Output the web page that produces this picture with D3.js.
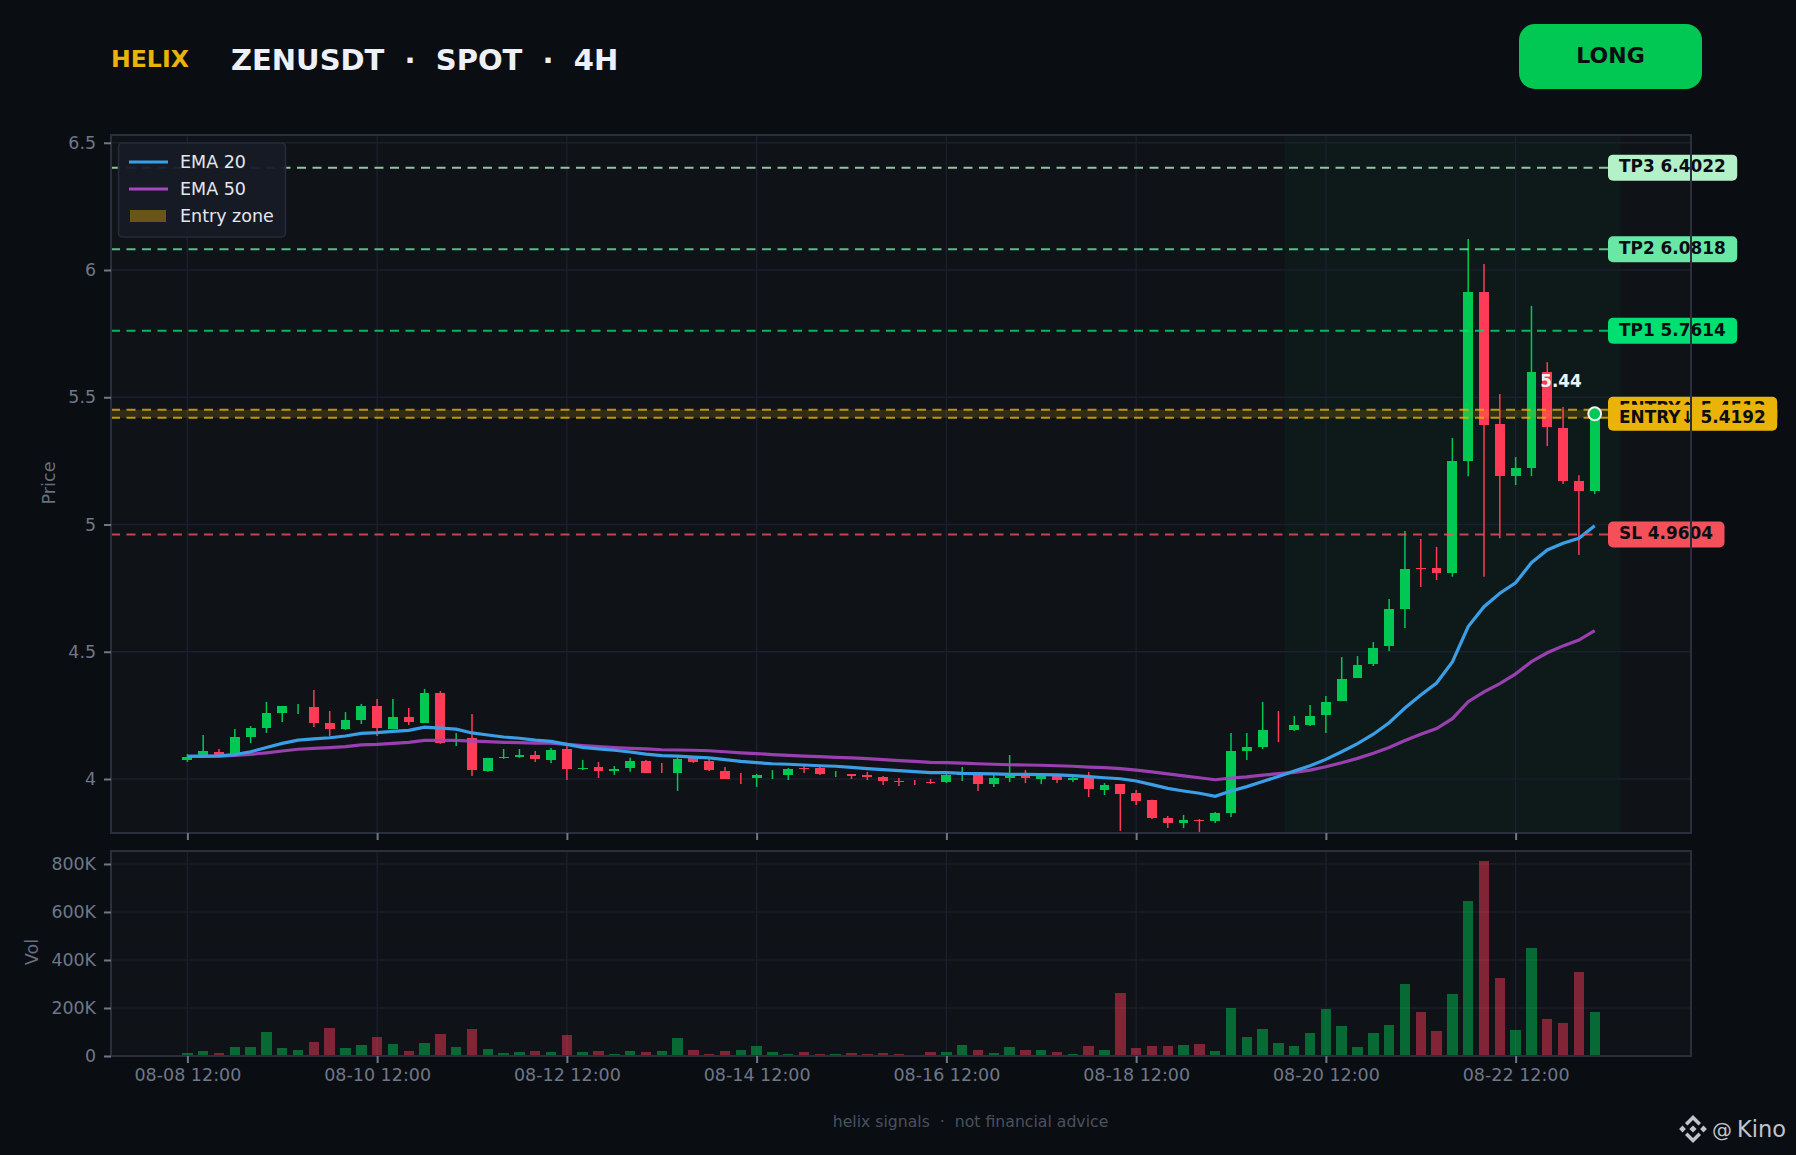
<!DOCTYPE html>
<html><head><meta charset="utf-8">
<script src="https://cdn.jsdelivr.net/npm/d3@7/dist/d3.min.js"></script>
<style>html,body{margin:0;padding:0;background:#0a0d12}svg{display:block}text{font-family:"DejaVu Sans",sans-serif;white-space:pre}</style>
</head><body><div id="c"></div>
<script>
const opens=[4.075,4.088,4.106,4.100,4.165,4.200,4.259,4.275,4.283,4.220,4.196,4.232,4.287,4.196,4.244,4.220,4.338,4.150,4.161,4.031,
4.083,4.086,4.094,4.075,4.118,4.039,4.047,4.031,4.043,4.071,4.050,4.024,4.083,4.071,4.031,4.015,4.004,4.020,4.016,4.043,
4.043,4.020,4.020,4.016,4.008,3.992,3.985,3.988,3.988,4.016,4.016,3.980,4.004,4.012,4.000,4.012,3.996,4.004,3.957,3.980,
3.945,3.918,3.847,3.827,3.840,3.835,3.866,4.110,4.126,4.200,4.193,4.212,4.251,4.306,4.397,4.452,4.523,4.668,4.828,4.829,
4.809,5.250,5.914,5.395,5.190,5.222,5.599,5.379,5.171,5.132];
const closes=[4.086,4.110,4.090,4.165,4.200,4.259,4.287,4.275,4.220,4.196,4.232,4.287,4.200,4.244,4.224,4.338,4.141,4.150,4.035,4.083,
4.086,4.094,4.079,4.114,4.039,4.043,4.031,4.039,4.071,4.024,4.050,4.079,4.067,4.035,4.000,4.015,4.016,4.020,4.039,4.040,
4.020,4.020,4.012,4.008,3.992,3.990,3.985,3.984,4.016,4.020,3.980,4.004,4.012,4.004,4.012,3.996,4.004,3.961,3.976,3.941,
3.914,3.847,3.827,3.839,3.836,3.866,4.110,4.126,4.193,4.200,4.212,4.248,4.303,4.393,4.448,4.515,4.668,4.825,4.826,4.809,
5.250,5.914,5.391,5.190,5.222,5.599,5.383,5.171,5.132,5.436];
const highs=[4.098,4.173,4.118,4.196,4.208,4.303,4.287,4.295,4.350,4.267,4.263,4.295,4.314,4.314,4.279,4.354,4.346,4.181,4.255,4.083,
4.118,4.118,4.110,4.122,4.130,4.075,4.067,4.051,4.083,4.075,4.063,4.086,4.086,4.079,4.047,4.024,4.020,4.035,4.043,4.051,
4.051,4.031,4.020,4.028,4.012,4.004,3.996,4.000,4.020,4.047,4.020,4.016,4.094,4.035,4.016,4.016,4.012,4.028,3.984,3.980,
3.957,3.918,3.855,3.859,3.843,3.870,4.181,4.181,4.303,4.267,4.248,4.291,4.326,4.479,4.483,4.538,4.707,4.974,4.943,4.912,
5.340,6.122,6.024,5.513,5.265,5.859,5.638,5.462,5.194,5.440];
const lows=[4.067,4.088,4.090,4.098,4.141,4.181,4.224,4.255,4.204,4.169,4.193,4.216,4.169,4.196,4.212,4.220,4.138,4.130,4.012,4.028,
4.079,4.083,4.067,4.063,3.996,4.035,4.004,4.016,4.028,4.024,4.024,3.953,4.063,4.031,4.000,3.980,3.969,4.000,3.996,4.024,
4.016,4.008,4.000,3.996,3.976,3.972,3.976,3.980,3.984,3.992,3.953,3.969,3.988,3.984,3.980,3.984,3.988,3.929,3.937,3.796,
3.898,3.843,3.807,3.807,3.792,3.827,3.851,4.075,4.118,4.145,4.189,4.208,4.181,4.306,4.397,4.444,4.503,4.593,4.754,4.782,
4.795,5.190,4.795,4.946,5.155,5.190,5.308,5.159,4.880,5.120];
const volumes=[12,21,12,37,37,100,33,25,58,117,33,46,79,50,21,54,92,37,112,29,
12,17,21,17,87,17,21,8,21,17,21,75,25,8,21,25,42,17,8,17,
8,8,12,8,12,8,4,17,17,46,25,12,37,25,25,17,8,42,25,262,
33,42,42,46,50,21,200,79,112,54,42,96,196,125,37,96,129,300,183,104,
258,646,812,325,108,450,154,137,350,183];
const ema20=[4.089,4.090,4.091,4.096,4.107,4.124,4.140,4.153,4.158,4.162,4.169,4.179,4.182,4.187,4.191,4.204,4.200,4.196,4.181,4.173,
4.165,4.160,4.153,4.148,4.136,4.124,4.118,4.113,4.106,4.098,4.092,4.090,4.086,4.083,4.076,4.069,4.064,4.060,4.058,4.055,
4.052,4.050,4.046,4.041,4.037,4.033,4.029,4.025,4.025,4.022,4.021,4.020,4.018,4.018,4.017,4.016,4.013,4.009,4.005,4.001,
3.992,3.978,3.963,3.953,3.944,3.932,3.953,3.970,3.990,4.010,4.031,4.052,4.077,4.107,4.139,4.176,4.221,4.279,4.330,4.377,
4.460,4.599,4.677,4.730,4.771,4.850,4.900,4.926,4.946,4.995];
const ema50=[4.089,4.089,4.090,4.093,4.097,4.103,4.110,4.117,4.120,4.123,4.127,4.134,4.136,4.140,4.144,4.152,4.152,4.152,4.149,4.147,
4.144,4.143,4.141,4.141,4.136,4.131,4.127,4.123,4.120,4.118,4.115,4.114,4.113,4.111,4.107,4.103,4.100,4.096,4.093,4.090,
4.088,4.085,4.083,4.080,4.076,4.072,4.069,4.065,4.064,4.062,4.060,4.058,4.056,4.055,4.054,4.052,4.050,4.047,4.045,4.041,
4.035,4.028,4.020,4.012,4.005,3.997,4.004,4.008,4.015,4.021,4.026,4.035,4.048,4.064,4.081,4.101,4.124,4.151,4.176,4.198,
4.237,4.304,4.342,4.375,4.413,4.461,4.496,4.523,4.546,4.583];
const tickIndex=[0,12,24,36,48,60,72,84];
const tickLabels=["08-08 12:00","08-10 12:00","08-12 12:00","08-14 12:00","08-16 12:00","08-18 12:00","08-20 12:00","08-22 12:00"];
const priceTicks=[4,4.5,5,5.5,6,6.5];
const priceTickLabels=["4","4.5","5","5.5","6","6.5"];
const volTicks=[0,200,400,600,800];
const volTickLabels=["0","200K","400K","600K","800K"];
const levelNames=["TP3 6.4022","TP2 6.0818","TP1 5.7614","ENTRY↑ 5.4512","ENTRY↓ 5.4192","SL 4.9604"];
const levelValues=[6.4022,6.0818,5.7614,5.4512,5.4192,4.9604];
const levelColors=["#b4f0c8","#69e8a5","#00e070","#eab308","#eab308","#f4505a"];
const zoneIndex=[69.38,90.65];
const lastClose=5.4352;

const UP="#00c853",DOWN="#ff3b57",BG="#0a0d12",PANEL="#0f1217",GRID="#1b1f2e",SPINE="#2a2e3d",MUTED="#6f7888";
const W=1796,H=1155;
const L=111,R=1691,T1=135,B1=833,T2=851,B2=1056;
const svg=d3.select("#c").append("svg").attr("width",W).attr("height",H).attr("viewBox",`0 0 ${W} ${H}`);
svg.append("rect").attr("width",W).attr("height",H).attr("fill",BG);
const x=d3.scaleLinear().domain([-4.83,95.09]).range([L,R]);
const y=d3.scaleLinear().domain([3.7878,6.5305]).range([B1,T1]);
const yv=d3.scaleLinear().domain([0,854]).range([B2,T2]);
const n=opens.length,bw=9.8,vw=10.4;

// panels
[[T1,B1],[T2,B2]].forEach(([a,b])=>svg.append("rect").attr("x",L).attr("y",a).attr("width",R-L).attr("height",b-a).attr("fill",PANEL));
svg.append("rect").attr("x",x(zoneIndex[0])).attr("y",T1).attr("width",x(zoneIndex[1])-x(zoneIndex[0])).attr("height",B1-T1).attr("fill",UP).attr("fill-opacity",0.04);

// grid
function grid(sel,a,b,scale,ticks){
  sel.selectAll(null).data(tickIndex).join("line").attr("x1",d=>x(d)).attr("x2",d=>x(d)).attr("y1",a).attr("y2",b).attr("stroke",GRID).attr("stroke-width",1.4);
  sel.selectAll(null).data(ticks).join("line").attr("x1",L).attr("x2",R).attr("y1",d=>scale(d)).attr("y2",d=>scale(d)).attr("stroke",GRID).attr("stroke-width",1.4);
}
grid(svg.append("g"),T1,B1,y,priceTicks);
grid(svg.append("g"),T2,B2,yv,volTicks);

// volume
const idx=d3.range(n);
svg.append("g").attr("shape-rendering","crispEdges").selectAll("rect").data(idx).join("rect")
 .attr("x",i=>x(i)-vw/2).attr("width",vw).attr("y",i=>yv(volumes[i])).attr("height",i=>yv(0)-yv(volumes[i]))
 .attr("fill",i=>closes[i]>=opens[i]?UP:DOWN).attr("fill-opacity",0.48);

// candles
const col=i=>closes[i]>=opens[i]&&!(i===69||i===30||i===35||i===46)?UP:DOWN;
const cg=svg.append("g");
cg.selectAll("line").data(idx).join("line").attr("x1",i=>x(i)).attr("x2",i=>x(i)).attr("y1",i=>y(highs[i])).attr("y2",i=>y(lows[i])).attr("stroke",col).attr("stroke-width",1.5);
cg.selectAll("rect").data(idx).join("rect").attr("shape-rendering","crispEdges").attr("x",i=>x(i)-bw/2).attr("width",bw)
 .attr("y",i=>y(Math.max(opens[i],closes[i]))).attr("height",i=>Math.abs(y(opens[i])-y(closes[i]))).attr("fill",col);

// EMAs
const lineOf=arr=>d3.line().x((d,i)=>x(i)).y(d=>y(d))(arr);
svg.append("path").attr("d",lineOf(ema50)).attr("fill","none").attr("stroke","#a845c0").attr("stroke-width",3.2).attr("stroke-opacity",.9);
svg.append("path").attr("d",lineOf(ema20)).attr("fill","none").attr("stroke","#3b9fe8").attr("stroke-width",3.2);

// entry band + levels
svg.append("rect").attr("x",L).attr("width",1608-L).attr("y",y(levelValues[3])).attr("height",y(levelValues[4])-y(levelValues[3])).attr("fill","#eab308").attr("fill-opacity",.16);
svg.append("g").selectAll("line").data(levelValues).join("line").attr("x1",L).attr("x2",1608).attr("y1",d=>y(d)).attr("y2",d=>y(d))
 .attr("stroke",(d,i)=>levelColors[i]).attr("stroke-width",2).attr("stroke-dasharray","9 6.5").attr("stroke-opacity",.8);

// marker
svg.append("circle").attr("cx",x(n-1)).attr("cy",y(lastClose)).attr("r",6.4).attr("fill",UP).attr("stroke","#eef1f6").attr("stroke-width",2);
svg.append("text").attr("x",1561).attr("y",386.6).attr("text-anchor","middle").attr("font-size",16.8).attr("font-weight",700).attr("fill","#eef1f8").text("5.44");

// labels
levelNames.forEach((t,i)=>{
  const g=svg.append("g");
  const r=g.append("rect").attr("x",1608).attr("y",y(levelValues[i])-13).attr("height",26).attr("rx",5).attr("fill",levelColors[i]);
  const tx=g.append("text").attr("x",1619).attr("y",y(levelValues[i])+4.8).attr("font-size",16.9).attr("font-weight",700).attr("fill","#0a0d14").text(t);
  r.attr("width",tx.node().getComputedTextLength()+22.5);
});

// spines
[[T1,B1],[T2,B2]].forEach(([a,b])=>svg.append("rect").attr("x",L).attr("y",a).attr("width",R-L).attr("height",b-a).attr("fill","none").attr("stroke",SPINE).attr("stroke-width",2));

// axes
function yAxis(scale,ticks,labels){
  const g=svg.append("g").attr("transform",`translate(${L},0)`).call(d3.axisLeft(scale).tickValues(ticks).tickFormat((d,i)=>labels[i]).tickSize(7).tickPadding(8));
  g.select(".domain").remove();
  g.selectAll("line").attr("stroke",MUTED).attr("stroke-width",2);
  g.selectAll("text").attr("fill",MUTED).attr("font-size",17.4).attr("font-family","DejaVu Sans");
}
yAxis(y,priceTicks,priceTickLabels);
yAxis(yv,volTicks,volTickLabels);
const xm=svg.append("g").attr("transform",`translate(0,${B1})`).call(d3.axisBottom(x).tickValues(tickIndex).tickFormat("").tickSize(7));
xm.select(".domain").remove();xm.selectAll("line").attr("stroke",MUTED).attr("stroke-width",2);
const xv=svg.append("g").attr("transform",`translate(0,${B2})`).call(d3.axisBottom(x).tickValues(tickIndex).tickFormat((d,i)=>tickLabels[i]).tickSize(7).tickPadding(6));
xv.select(".domain").remove();xv.selectAll("line").attr("stroke",MUTED).attr("stroke-width",2);
xv.selectAll("text").attr("fill",MUTED).attr("font-size",17.5).attr("font-family","DejaVu Sans");

// axis titles
svg.append("text").attr("transform","translate(55,483) rotate(-90)").attr("text-anchor","middle").attr("font-size",17.6).attr("fill","#68707f").text("Price");
svg.append("text").attr("transform","translate(38,952) rotate(-90)").attr("text-anchor","middle").attr("font-size",17.6).attr("fill","#68707f").text("Vol");

// legend
const lg=svg.append("g");
lg.append("rect").attr("x",118.5).attr("y",143).attr("width",167).attr("height",94).attr("rx",4).attr("fill","#171b26").attr("fill-opacity",.95).attr("stroke","#262b3a").attr("stroke-width",1.6);
[["EMA 20","#3b9fe8",162],["EMA 50","#a845c0",189]].forEach(([t,c,yy])=>{
  lg.append("line").attr("x1",129).attr("x2",168).attr("y1",yy).attr("y2",yy).attr("stroke",c).attr("stroke-width",3);
  lg.append("text").attr("x",180).attr("y",yy+5.6).attr("font-size",17.5).attr("fill","#e4e7ee").text(t);
});
lg.append("rect").attr("x",130).attr("y",210).attr("width",36).attr("height",12).attr("fill","#6a5519");
lg.append("text").attr("x",180).attr("y",222).attr("font-size",17.5).attr("fill","#e4e7ee").text("Entry zone");

// header
svg.append("text").attr("x",111).attr("y",66.5).attr("font-size",23.6).attr("font-weight",700).attr("fill","#eab308").text("HELIX");
svg.append("text").attr("x",231).attr("y",70).attr("font-size",29).attr("font-weight",700).attr("fill","#eef0f8").text("ZENUSDT  ·  SPOT  ·  4H");
svg.append("rect").attr("x",1519).attr("y",24).attr("width",183).attr("height",65).attr("rx",16).attr("fill",UP);
svg.append("text").attr("x",1610.5).attr("y",63).attr("text-anchor","middle").attr("font-size",22).attr("font-weight",700).attr("fill","#0a0d14").text("LONG");

// footer
svg.append("text").attr("x",970.5).attr("y",1127).attr("text-anchor","middle").attr("font-size",15.7).attr("fill","#4a5160").text("helix signals  ·  not financial advice");

// watermark
const wm=svg.append("g").attr("transform","translate(1693,1129)").attr("fill","#c0c4cc");
const dia=(cx,cy,r)=>`M${cx} ${cy-r}L${cx+r} ${cy}L${cx} ${cy+r}L${cx-r} ${cy}Z`;
wm.append("path").attr("d",dia(-10.5,0,3.4)+dia(10.5,0,3.4)+dia(0,0,3.6)+"M0 -14L8 -6L5.5 -3.5L0 -9L-5.5 -3.5L-8 -6ZM0 14L8 6L5.5 3.5L0 9L-5.5 3.5L-8 6Z");
svg.append("text").attr("x",1712).attr("y",1137).attr("font-size",20).attr("fill","#c0c4cc").text("@");
svg.append("text").attr("x",1737).attr("y",1137).attr("font-size",22.5).attr("fill","#c0c4cc").text("Kino");
</script></body></html>
